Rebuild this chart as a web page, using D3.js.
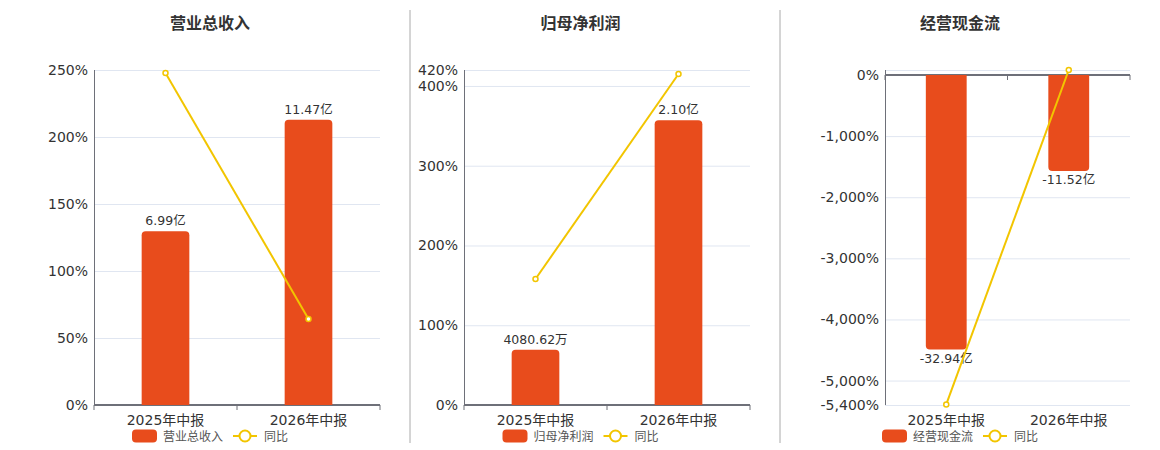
<!DOCTYPE html>
<html>
<head>
<meta charset="utf-8">
<script src="https://cdn.jsdelivr.net/npm/d3@7/dist/d3.min.js"></script>
<style>
    body { margin: 0; background: #fff; font-family: "DejaVu Sans", "Noto Sans CJK SC", sans-serif; }
    #chart { width: 1160px; height: 450px; }
    .grid line { stroke: #e0e6f1; }
    .grid path { display: none; }
    .axis path, .axis line { stroke: #6e7079; }
    .axis text { fill: #333; font-size: 14px; font-family: "DejaVu Sans", "Noto Sans CJK SC", sans-serif; }
</style>
</head>
<body>
<div id="chart"></div>
<script>
// data
const categories = ['2025年中报', '2026年中报'];
const titles = ['营业总收入', '归母净利润', '经营现金流'];

const revenue = [6.99, 11.47];
const revenueLabels = ['6.99亿', '11.47亿'];
const revenueYoy = [247.8, 64.2];

const profit = [0.408062, 2.10];
const profitLabels = ['4080.62万', '2.10亿'];
const profitYoy = [158, 415];

const cashflow = [-32.94, -11.52];
const cashflowLabels = ['-32.94亿', '-11.52亿'];
const cashflowYoy = [-5390, 82];

const revenueTicks = [0, 50, 100, 150, 200, 250];
const profitTicks = [0, 100, 200, 300, 400, 420];
const cashflowTicks = [0, -1000, -2000, -3000, -4000, -5000, -5400];

const panels = [
    {title: titles[0], bars: revenue, labels: revenueLabels, yoy: revenueYoy, ticks: revenueTicks,
     yDomain: [0, 250], barDomain: [0, 13.47], left: 94, right: 380, center: 210},
    {title: titles[1], bars: profit, labels: profitLabels, yoy: profitYoy, ticks: profitTicks,
     yDomain: [0, 420], barDomain: [0, 2.47], left: 464, right: 750, center: 580.5},
    {title: titles[2], bars: cashflow, labels: cashflowLabels, yoy: cashflowYoy, ticks: cashflowTicks,
     yDomain: [-5400, 82], barDomain: [-39.6, 0.6], left: 885, right: 1130, center: 960}
];

const cfg = {
    top: 70, bottom: 405,
    barColor: '#e84c1c',
    lineColor: '#f2c500',
    textColor: '#333'
};

const fmt = d3.formatLocale({decimal: '.', thousands: ',', grouping: [3], currency: ['', ''], minus: '-'}).format(',');

const svg = d3.select('#chart').append('svg')
    .attr('width', 1160).attr('height', 450)
    .style('font-family', '"DejaVu Sans", "Noto Sans CJK SC", sans-serif');

// separators
[410, 780].forEach(function(x){
    svg.append('line').attr('x1', x).attr('x2', x).attr('y1', 10).attr('y2', 443)
        .attr('stroke', '#aaa').attr('stroke-width', 1);
});

// rounded bar path: round the end away from zero
function barPath(x, w, y0, y1, r) {
    if (y1 < y0) { // positive bar, round top
        return 'M' + x + ',' + y0 + 'V' + (y1 + r) + 'Q' + x + ',' + y1 + ' ' + (x + r) + ',' + y1 +
            'H' + (x + w - r) + 'Q' + (x + w) + ',' + y1 + ' ' + (x + w) + ',' + (y1 + r) + 'V' + y0 + 'Z';
    }
    return 'M' + x + ',' + y0 + 'V' + (y1 - r) + 'Q' + x + ',' + y1 + ' ' + (x + r) + ',' + y1 +
        'H' + (x + w - r) + 'Q' + (x + w) + ',' + y1 + ' ' + (x + w) + ',' + (y1 - r) + 'V' + y0 + 'Z';
}

panels.forEach(function(p){
    const g = svg.append('g');

    const x = d3.scaleBand().domain(categories).range([p.left, p.right]);
    const y = d3.scaleLinear().domain(p.yDomain).range([cfg.bottom, cfg.top]);
    const yb = d3.scaleLinear().domain(p.barDomain).range([cfg.bottom, cfg.top]);

    // TITLE
    g.append('text').attr('x', p.center).attr('y', 29).attr('text-anchor', 'middle')
        .attr('font-size', 16).attr('font-weight', 'bold').attr('fill', cfg.textColor)
        .text(p.title);

    // GRIDLINES
    g.append('g').attr('class', 'grid')
        .attr('transform', 'translate(' + p.left + ',0)')
        .call(d3.axisLeft(y).tickValues(p.ticks.concat([p.yDomain[1]])).tickSize(-(p.right - p.left)).tickFormat(''));

    // Y AXIS
    const ya = g.append('g').attr('class', 'axis axis--y')
        .attr('transform', 'translate(' + p.left + ',0)')
        .call(d3.axisLeft(y).tickValues(p.ticks).tickSize(0).tickPadding(6).tickFormat(function(d){ return fmt(d) + '%'; }));
    ya.select('.domain').attr('d', 'M0.5,' + cfg.top + 'V' + cfg.bottom);

    // X AXIS at zero line
    const zeroY = p.yDomain[0] < 0 ? y(0) : cfg.bottom;
    const xa = g.append('g').attr('class', 'axis axis--x')
        .attr('transform', 'translate(0,' + zeroY + ')')
        .call(d3.axisBottom(x).tickSize(0).tickFormat(''));
    xa.select('.domain').attr('stroke-width', 2).attr('d', 'M' + p.left + ',0H' + p.right);
    [p.left, p.left + x.bandwidth(), p.right].forEach(function(tx){
        xa.append('line').attr('x1', tx).attr('x2', tx).attr('y1', 0).attr('y2', 5).attr('stroke', '#6e7079');
    });

    // category labels
    g.selectAll('.cat').data(categories).enter().append('text')
        .attr('x', function(d){ return x(d) + x.bandwidth() / 2; })
        .attr('y', 425).attr('text-anchor', 'middle')
        .attr('font-size', 14).attr('fill', cfg.textColor)
        .text(function(d){ return d; });

    // BARS
    const bw = x.bandwidth() / 3;
    g.selectAll('.bar').data(p.bars).enter().append('path')
        .attr('fill', cfg.barColor)
        .attr('d', function(d, i){
            return barPath(x(categories[i]) + (x.bandwidth() - bw) / 2, bw, yb(0), yb(d), 4);
        });

    g.selectAll('.blabel').data(p.bars).enter().append('text')
        .attr('x', function(d, i){ return x(categories[i]) + x.bandwidth() / 2; })
        .attr('y', function(d){ return d >= 0 ? yb(d) - 6 : yb(d) + 13; })
        .attr('text-anchor', 'middle').attr('font-size', 12.5).attr('fill', cfg.textColor)
        .text(function(d, i){ return p.labels[i]; });

    // LINE
    const line = d3.line()
        .x(function(d, i){ return x(categories[i]) + x.bandwidth() / 2; })
        .y(function(d){ return y(d); });
    g.append('path').datum(p.yoy).attr('d', line)
        .attr('fill', 'none').attr('stroke', cfg.lineColor).attr('stroke-width', 2);
    g.selectAll('.pt').data(p.yoy).enter().append('circle')
        .attr('cx', function(d, i){ return x(categories[i]) + x.bandwidth() / 2; })
        .attr('cy', function(d){ return y(d); })
        .attr('r', 2.5).attr('fill', '#fff').attr('stroke', cfg.lineColor).attr('stroke-width', 1.5);

    // LEGEND
    const c = p.center;
    g.append('rect').attr('x', c - 78).attr('y', 429.5).attr('width', 25).attr('height', 13).attr('rx', 4)
        .attr('fill', cfg.barColor);
    g.append('text').attr('x', c - 47).attr('y', 440.5).attr('font-size', 12).attr('fill', '#555').text(p.title);
    g.append('line').attr('x1', c + 23).attr('x2', c + 47).attr('y1', 436).attr('y2', 436)
        .attr('stroke', cfg.lineColor).attr('stroke-width', 2);
    g.append('circle').attr('cx', c + 35).attr('cy', 436).attr('r', 5.5)
        .attr('fill', '#fff').attr('stroke', cfg.lineColor).attr('stroke-width', 2);
    g.append('text').attr('x', c + 54).attr('y', 440.5).attr('font-size', 12).attr('fill', '#555').text('同比');
});
</script>
</body>
</html>
